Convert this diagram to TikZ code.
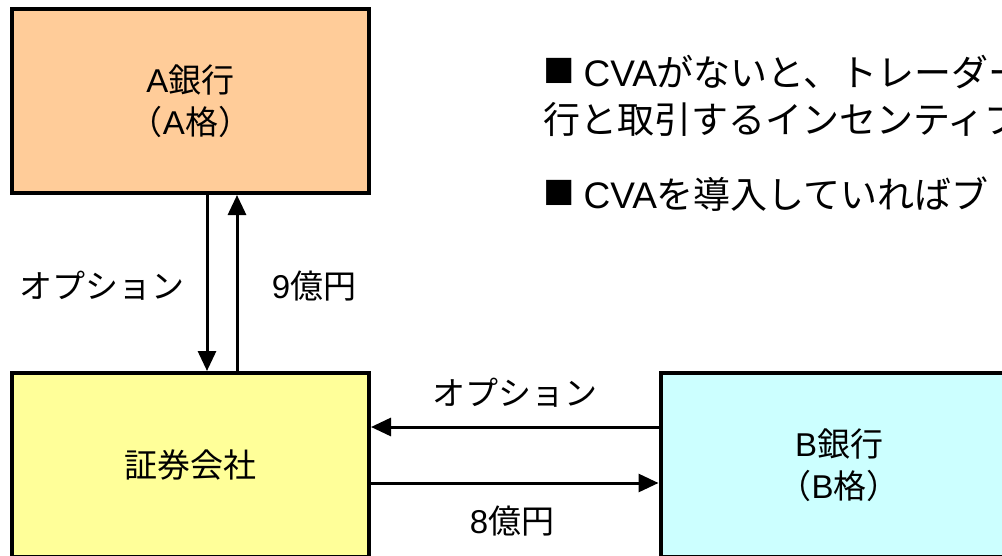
\documentclass[tikz,border=0pt]{standalone}
\usepackage{fontspec}
\setmainfont{Noto Sans CJK JP}
\newfontfamily\lat{Liberation Sans}
\usetikzlibrary{arrows.meta}
\definecolor{aorange}{HTML}{FFCC99}
\definecolor{syellow}{HTML}{FFFF99}
\definecolor{bcyan}{HTML}{CCFFFF}
\newcommand{\bsq}{{\lat\fontsize{52}{52}\selectfont ■}\hspace{9pt}}
\tikzset{
  box/.style={draw=black, line width=4pt, minimum width=357pt, minimum height=184pt, inner sep=0pt, align=center, font=\fontsize{33}{42}\selectfont},
  flow/.style={line width=3pt, -{Triangle[length=20pt,width=18pt]}},
  lbl/.style={inner sep=0pt, font=\fontsize{33}{40}\selectfont},
  bullet/.style={inner sep=0pt, anchor=base west, font=\fontsize{37}{44}\selectfont}
}
\begin{document}
\begin{tikzpicture}[x=1pt,y=-1pt]
\useasboundingbox (0,0) rectangle (1002,555);
\clip (0,0) rectangle (1002,555);
\node[box, fill=aorange] (A) at (190.5,101) {{\lat A}銀行\\（{\lat A}格）};
\node[box, fill=syellow] (S) at (190.5,465) {証券会社};
\node[box, fill=bcyan] (B) at (839,465) {{\lat B}銀行\\（{\lat B}格）};
\draw[flow] ([xshift=16.5pt]A.south) -- ([xshift=16.5pt]S.north);
\draw[flow] ([xshift=46.5pt]S.north) -- ([xshift=46.5pt]A.south);
\draw[flow] ([yshift=38pt]B.west) -- ([yshift=38pt]S.east);
\draw[flow] ([yshift=-18pt]S.east) -- ([yshift=-18pt]B.west);
\node[lbl] (l1) at (102,286) {オプション};
\node[lbl] (l2) at (314,286) {{\lat 9}億円};
\node[lbl] (l3) at (515,393) {オプション};
\node[lbl] (l4) at (512,521) {{\lat 8}億円};
\node[bullet] (t1) at (543,86) {\bsq{\lat CVA}がないと、トレーダー};
\node[bullet] (t2) at (543,133) {行と取引するインセンティブ};
\node[bullet] (t3) at (543,208) {\bsq{\lat CVA}を導入していればブ};
\end{tikzpicture}
\end{document}
